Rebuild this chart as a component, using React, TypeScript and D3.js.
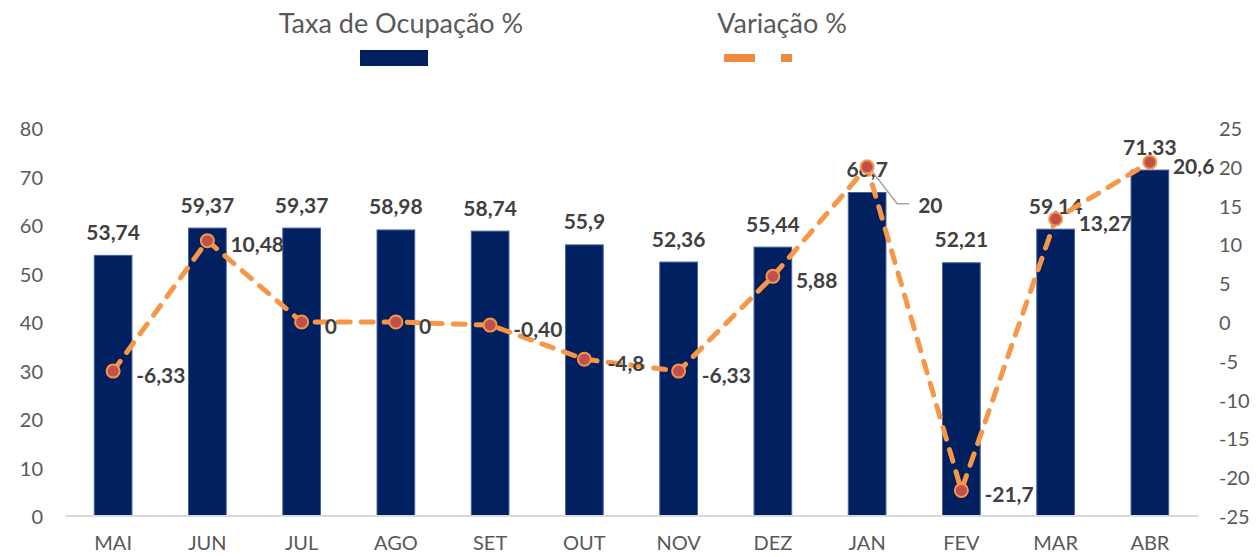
import React from "react";
import * as d3 from "d3";

const categories = ["MAI", "JUN", "JUL", "AGO", "SET", "OUT", "NOV", "DEZ", "JAN", "FEV", "MAR", "ABR"];
const occupancy = [53.74, 59.37, 59.37, 58.98, 58.74, 55.9, 52.36, 55.44, 66.7, 52.21, 59.14, 71.33];
const occupancyLabels = ["53,74", "59,37", "59,37", "58,98", "58,74", "55,9", "52,36", "55,44", "66,7", "52,21", "59,14", "71,33"];
const variation = [-6.33, 10.48, 0, 0, -0.4, -4.8, -6.33, 5.88, 20, -21.7, 13.27, 20.6];
const variationLabels = ["-6,33", "10,48", "0", "0", "-0,40", "-4,8", "-6,33", "5,88", "20", "-21,7", "13,27", "20,6"];
const leftTicks = [0, 10, 20, 30, 40, 50, 60, 70, 80];
const rightTicks = [-25, -20, -15, -10, -5, 0, 5, 10, 15, 20, 25];

const W = 1258;
const H = 557;
const FONT = "Lato, 'Open Sans', sans-serif";

export default function App() {
  const x = d3.scaleBand<string>().domain(categories).range([66, 1197]).paddingInner(0.6).paddingOuter(0.3);
  const yL = d3.scaleLinear().domain([0, 80]).range([516, 128]);
  const yR = d3.scaleLinear().domain([-25, 25]).range([516, 128]);
  const cx = (c: string) => (x(c) as number) + x.bandwidth() / 2;

  const line = d3
    .line<number>()
    .x((_, i) => cx(categories[i]))
    .y((d) => yR(d));

  const janIdx = categories.indexOf("JAN");

  return (
    <svg width={W} height={H} style={{ position: "absolute", left: 0, top: 0, background: "#fff" }} fontFamily={FONT}>
      {/* Legend */}
      <text x={401} y={22} fontSize={27} fill="#595959" textAnchor="middle" dominantBaseline="central">
        Taxa de Ocupação %
      </text>
      <rect x={360} y={50} width={68} height={16} fill="#002060" />
      <text x={782} y={22} fontSize={27} fill="#595959" textAnchor="middle" dominantBaseline="central">
        Variação %
      </text>
      <rect x={724} y={54} width={31} height={8} fill="#F08A3C" />
      <rect x={781} y={54} width={11} height={8} fill="#F08A3C" />

      {/* Left axis ticks */}
      {leftTicks.map((t) => (
        <text key={"l" + t} x={43} y={yL(t)} fontSize={20} fill="#595959" textAnchor="end" dominantBaseline="central">
          {t}
        </text>
      ))}
      {/* Right axis ticks */}
      {rightTicks.map((t) => (
        <text key={"r" + t} x={1219} y={yR(t)} fontSize={20} fill="#595959" textAnchor="start" dominantBaseline="central">
          {t}
        </text>
      ))}

      {/* Bars */}
      {categories.map((c, i) => (
        <rect
          key={"b" + c}
          x={x(c)}
          y={yL(occupancy[i])}
          width={x.bandwidth()}
          height={yL(0) - yL(occupancy[i])}
          fill="#002060"
          stroke="#4A63A0"
          strokeWidth={1}
        />
      ))}

      {/* Baseline */}
      <line x1={66} x2={1198} y1={yL(0)} y2={yL(0)} stroke="#D9D9D9" strokeWidth={2} />

      {/* X labels */}
      {categories.map((c) => (
        <text key={"x" + c} x={cx(c)} y={542} fontSize={20} fill="#595959" textAnchor="middle" dominantBaseline="central">
          {c}
        </text>
      ))}

      {/* Bar labels */}
      {categories.map((c, i) => (
        <text
          key={"bl" + c}
          x={cx(c)}
          y={yL(occupancy[i]) - 24}
          fontSize={21}
          fontWeight="bold"
          fill="#404040"
          textAnchor="middle"
          dominantBaseline="central"
        >
          {occupancyLabels[i]}
        </text>
      ))}

      {/* Line */}
      <path
        d={line(variation) || ""}
        fill="none"
        stroke="#F79646"
        strokeWidth={5}
        strokeDasharray="12 11"
        strokeLinecap="round"
        strokeLinejoin="round"
      />

      {/* Leader line for JAN */}
      <polyline
        points={`${cx("JAN") + 3},${yR(variation[janIdx]) + 2} ${cx("JAN") + 30},${yR(variation[janIdx]) + 37} ${cx("JAN") + 42},${yR(variation[janIdx]) + 37}`}
        fill="none"
        stroke="#A6A6A6"
        strokeWidth={1.5}
      />

      {/* Markers */}
      {categories.map((c, i) => (
        <circle key={"m" + c} cx={cx(c)} cy={yR(variation[i])} r={6.5} fill="#C0504D" stroke="#F79646" strokeWidth={2} />
      ))}

      {/* Line labels */}
      {categories.map((c, i) => {
        const isJan = c === "JAN";
        return (
          <text
            key={"ll" + c}
            x={cx(c) + (isJan ? 51 : 23)}
            y={yR(variation[i]) + (isJan ? 38 : 3)}
            fontSize={21}
            fontWeight="bold"
            fill="#404040"
            textAnchor="start"
            dominantBaseline="central"
          >
            {variationLabels[i]}
          </text>
        );
      })}
    </svg>
  );
}
